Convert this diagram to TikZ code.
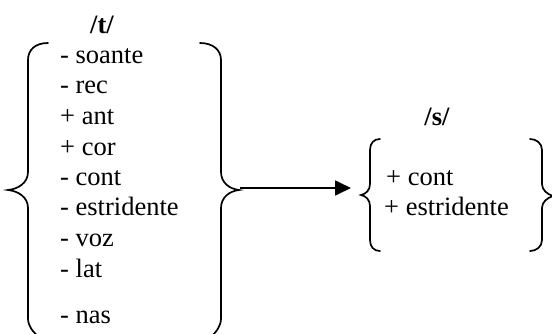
\documentclass[tikz,border=0pt]{standalone}
\usepackage{fontspec}
\setmainfont{Liberation Serif}
\usetikzlibrary{arrows.meta}

\begin{document}
\begin{tikzpicture}[x=1pt, y=-1pt,
  feat/.style={font=\fontsize{26.5}{30}\selectfont, anchor=base west, inner sep=0pt},
  seg/.style={font=\fontsize{26.5}{30}\selectfont\bfseries, anchor=base, inner sep=0pt},
  curl/.style={line width=1.7pt, line cap=round},
]
  \clip (0,0) rectangle (552,333);

  % the /t/ column
  \node[seg] (t) at (102,33) {/t/};
  \node[feat] (t1) at (60,63)  {- soante};
  \node[feat] (t2) at (60,93)  {- rec};
  \node[feat] (t3) at (60,124) {+ ant};
  \node[feat] (t4) at (60,155) {+ cor};
  \node[feat] (t5) at (60,185) {- cont};
  \node[feat] (t6) at (60,215) {- estridente};
  \node[feat] (t7) at (60,246) {- voz};
  \node[feat] (t8) at (60,277) {- lat};
  \node[feat] (t9) at (60,323) {- nas};

  % the /s/ column
  \node[seg] (s) at (437,125) {/s/};
  \node[feat] (s1) at (386,185) {+ cont};
  \node[feat] (s2) at (384,215) {+ estridente};

  % braces round /t/
  \draw[curl] (48,43) .. controls (35,43) and (28,50) .. (28,60)
    -- (28,172) .. controls (28,183) and (18,189) .. (8,190)
    .. controls (18,191) and (28,197) .. (28,208)
    -- (28,318) .. controls (28,326) and (32,331) .. (40,338);
  \draw[curl] (200,43) .. controls (213,43) and (221,50) .. (221,60)
    -- (221,172) .. controls (221,183) and (230,189) .. (239,190)
    .. controls (230,191) and (221,197) .. (221,208)
    -- (221,318) .. controls (221,326) and (217,331) .. (210,338);

  % braces round /s/
  \draw[curl] (380,139) .. controls (374,139) and (370,143) .. (370,150)
    -- (370,184) .. controls (370,190) and (366,194) .. (361,195)
    .. controls (366,196) and (370,200) .. (370,206)
    -- (370,240) .. controls (370,247) and (374,251) .. (380,251);
  \draw[curl] (530,139) .. controls (536,139) and (542,143) .. (542,150)
    -- (542,184) .. controls (542,190) and (547,194) .. (553,196)
    .. controls (547,198) and (542,202) .. (542,208)
    -- (542,240) .. controls (542,247) and (536,251) .. (530,251);

  \coordinate (tTip) at (240,188);
  \coordinate (sTip) at (351,188);
  \draw[line width=1.7pt, -{Triangle[length=16pt, width=15pt]}] (tTip) -- (sTip);
\end{tikzpicture}
\end{document}
